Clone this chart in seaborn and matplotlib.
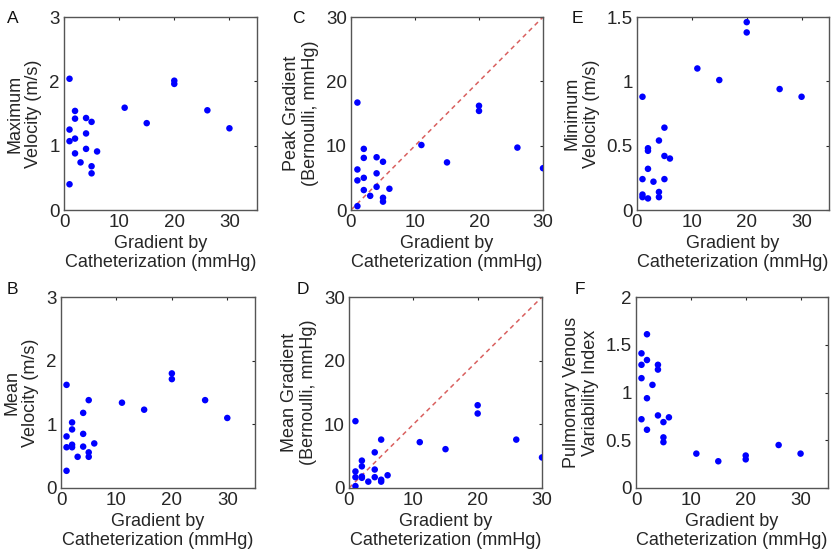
import matplotlib
matplotlib.use("Agg")
import matplotlib.pyplot as plt
import seaborn as sns
import pandas as pd

# gradient by catheterization (mmHg), shared x for every panel
cath_gradient = [1, 1, 1, 1, 2, 2, 2, 2, 3, 4, 4, 4, 5, 5, 5, 6, 11, 15, 20, 20, 26, 30]

max_velocity = [2.04, 1.25, 1.07, 0.40, 1.54, 1.42, 1.11, 0.88, 0.74, 1.43, 1.19, 0.95,
                1.37, 0.68, 0.57, 0.91, 1.59, 1.35, 2.01, 1.96, 1.55, 1.27]
mean_velocity = [1.62, 0.81, 0.64, 0.27, 1.03, 0.92, 0.68, 0.64, 0.49, 1.18, 0.85, 0.65,
                 1.38, 0.56, 0.49, 0.70, 1.34, 1.23, 1.80, 1.71, 1.38, 1.10]
peak_gradient = [16.7, 6.3, 4.6, 0.6, 9.5, 8.1, 5.0, 3.1, 2.2, 8.2, 5.7, 3.6,
                 7.5, 1.9, 1.3, 3.3, 10.1, 7.4, 16.2, 15.4, 9.7, 6.5]
mean_gradient = [10.5, 2.6, 1.7, 0.3, 4.3, 3.4, 1.8, 1.6, 1.0, 5.6, 2.9, 1.7,
                 7.6, 1.3, 1.0, 2.0, 7.2, 6.1, 13.0, 11.7, 7.6, 4.8]
min_velocity = [0.88, 0.24, 0.12, 0.10, 0.48, 0.46, 0.32, 0.09, 0.22, 0.54, 0.14, 0.10,
                0.64, 0.42, 0.24, 0.40, 1.10, 1.01, 1.46, 1.38, 0.94, 0.88]
pvi = [1.41, 1.29, 1.15, 0.72, 1.61, 1.34, 0.94, 0.61, 1.08, 1.29, 1.24, 0.76,
       0.69, 0.53, 0.48, 0.74, 0.36, 0.28, 0.34, 0.30, 0.45, 0.36]

df = pd.DataFrame({"cath": cath_gradient, "vmax": max_velocity, "vmean": mean_velocity,
                   "gpeak": peak_gradient, "gmean": mean_gradient, "vmin": min_velocity,
                   "pvi": pvi})

sns.set_style("white")
plt.rcParams["font.family"] = ["Liberation Sans", "DejaVu Sans"]
plt.rcParams["font.size"] = 13

W, H = 836, 554
fig = plt.figure(figsize=(W / 100, H / 100), dpi=100)

def box(l, r, t, b):
    return [l / W, 1 - b / H, (r - l) / W, (b - t) / H]

panels = [
    # letter, column, ylabel, axes box (px), xlim, ylim, yticks, ytick labels, identity line, letter pos
    ("A", "vmax", "Maximum\nVelocity (m/s)", box(64, 257, 17, 210), 35, 3, [0, 1, 2, 3], None, False, (7, 23)),
    ("C", "gpeak", "Peak Gradient\n(Bernoulli, mmHg)", box(351, 543, 17, 210), 30, 30, [0, 10, 20, 30], None, True, (292, 23)),
    ("E", "vmin", "Minimum\nVelocity (m/s)", box(637, 829, 17, 210), 35, 1.5, [0, 0.5, 1, 1.5], ["0", "0.5", "1", "1.5"], False, (572, 23)),
    ("B", "vmean", "Mean\nVelocity (m/s)", box(61, 255, 297, 488), 35, 3, [0, 1, 2, 3], None, False, (7, 294)),
    ("D", "gmean", "Mean Gradient\n(Bernoulli, mmHg)", box(349, 542, 297, 488), 30, 30, [0, 10, 20, 30], None, True, (297, 294)),
    ("F", "pvi", "Pulmonary Venous\nVariability Index", box(636, 828, 297, 488), 35, 2, [0, 0.5, 1, 1.5, 2], ["0", "0.5", "1", "1.5", "2"], False, (575, 294)),
]

for letter, col, ylab, rect, xmax, ymax, yt, ytl, ident, lpos in panels:
    ax = fig.add_axes(rect)
    if ident:
        ax.plot([0, 30], [0, 30], ls=(0, (3, 2.5)), color="#d9605f", lw=1.1, zorder=1)
    sns.scatterplot(data=df, x="cath", y=col, ax=ax, color="#0000ff", s=22,
                    edgecolor="none", zorder=3)
    ax.set_xlim(0, xmax)
    ax.set_ylim(0, ymax)
    ax.set_xticks([0, 10, 20, 30])
    ax.set_yticks(yt)
    if ytl:
        ax.set_yticklabels(ytl)
    ax.set_xlabel("Gradient by\nCatheterization (mmHg)", fontsize=13, color="#262626",
                  linespacing=1.1, labelpad=3)
    ax.set_ylabel(ylab, fontsize=13, color="#262626", linespacing=1.15, labelpad=5)
    ax.tick_params(direction="in", length=2.5, width=0.8, colors="#262626",
                   labelsize=13.5, top=True, right=True, pad=3)
    for sp in ax.spines.values():
        sp.set_visible(True)
        sp.set_color("#555555")
        sp.set_linewidth(1.0)
    fig.text(lpos[0] / W, 1 - lpos[1] / H, letter, fontsize=12.5, color="#111111")

fig.savefig("out.png", dpi=100)
